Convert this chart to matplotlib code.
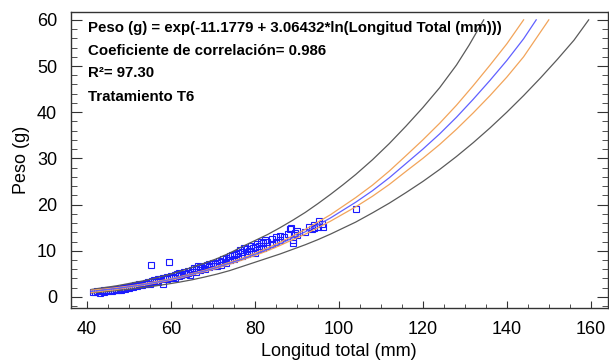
import matplotlib.pyplot as plt
from matplotlib.ticker import MultipleLocator

plt.rcParams['font.family'] = ['Liberation Sans', 'DejaVu Sans']

# observed points (Longitud total mm, Peso g)
obs_l = [41.5, 42, 42.5, 43, 43, 43.5, 44, 44, 44.5, 45, 45, 45.5, 46, 46, 46.5, 47, 47, 47.5,
         48, 48, 48.5, 49, 49, 49.5, 50, 50, 50.5,
         51, 51, 51.5, 52, 52, 52.5, 53, 53, 53.5, 54, 54, 54.5, 55, 55, 55.2, 55.5, 56, 56, 56.5,
         57, 57, 57.5, 58, 58, 58.5, 59, 59, 59.6, 60, 60, 60.5,
         61, 61, 61.5, 62, 62, 62.5, 63, 63, 63.5, 64, 64, 64.5, 65, 65, 65.5, 66, 66, 66.5,
         67, 67, 67.5, 68, 68, 68.5, 69, 69, 69.5, 70, 70, 70.5,
         71, 71, 71.5, 72, 72, 72.5, 73, 73, 73.5, 74, 74, 74.5, 75, 75, 75.5, 76, 76, 76.5,
         77, 77, 77.5, 78, 78, 78.5, 79, 79, 79.5, 80, 80, 80.5,
         81, 81, 81.5, 82, 82, 82.5, 83, 83, 84, 84, 85, 85, 86, 86, 87, 88, 88.3, 88.5,
         89, 89, 89.5, 90, 90,
         92, 93, 93.5, 94, 94, 95, 95.3, 96, 96.2, 104]
obs_w = [1.0, 1.1, 1.2, 0.9, 1.3, 1.2, 1.4, 1.1, 1.3, 1.6, 1.2, 1.4, 1.5, 1.2, 1.6, 1.7, 1.4, 1.5,
         1.8, 1.6, 1.9, 2.0, 1.7, 2.1, 2.2, 1.9, 2.3,
         2.4, 2.1, 2.5, 2.6, 2.3, 2.7, 2.9, 2.5, 2.8, 3.1, 2.7, 3.2, 3.3, 2.9, 6.9, 3.4, 3.6, 3.2, 3.5,
         3.8, 3.3, 3.9, 4.0, 2.9, 4.2, 4.3, 3.8, 7.5, 4.6, 4.0, 4.4,
         4.8, 4.2, 5.0, 5.1, 4.5, 4.8, 5.4, 4.9, 5.0, 5.6, 5.2, 4.7, 5.9, 5.4, 6.3, 6.1, 5.5, 6.8,
         6.4, 5.8, 6.2, 6.7, 6.0, 7.0, 7.1, 6.5, 6.6, 7.3, 6.7, 7.1,
         7.4, 6.6, 7.8, 7.6, 7.0, 8.2, 8.5, 7.4, 7.9, 8.8, 8.0, 9.1, 9.0, 8.2, 9.3, 9.6, 8.6, 10.2,
         9.8, 8.9, 10.5, 10.3, 9.2, 10.0, 11.0, 9.9, 10.6, 10.8, 9.6, 11.4,
         11.1, 10.3, 11.8, 11.6, 10.5, 12.3, 12.0, 11.1, 12.5, 11.4, 12.9, 12.0, 13.1, 12.4, 13.0, 13.6, 14.7, 15.0,
         12.3, 11.6, 13.9, 14.2, 13.5,
         14.0, 15.1, 14.6, 15.5, 14.9, 15.2, 16.5, 15.8, 15.2, 19.0]

# fitted line
fit_l = [41, 44, 47, 50, 53, 56, 59, 62, 65, 68, 71, 74, 77, 80, 83, 86, 89, 92, 95, 98,
         101, 104, 108, 112, 116, 120, 124, 128, 132, 136, 140, 144, 147]
fit_w = [1.2, 1.5, 1.8, 2.2, 2.6, 3.1, 3.6, 4.2, 4.9, 5.6, 6.4, 7.3, 8.2, 9.2, 10.3, 11.5, 12.8, 14.1, 15.6, 17.1,
         18.8, 20.5, 23.0, 25.8, 28.9, 32.0, 35.3, 38.9, 42.8, 46.9, 51.2, 55.9, 60.0]

# confidence limits (orange)
cup_l = [41, 44, 47, 50, 53, 56, 59, 62, 65, 68, 71, 74, 77, 80, 83, 86, 89, 92, 95, 98,
         101, 104, 108, 112, 116, 120, 124, 128, 132, 136, 140, 144]
cup_w = [1.45, 1.7, 2.0, 2.35, 2.75, 3.25, 3.75, 4.35, 5.05, 5.75, 6.6, 7.5, 8.4, 9.45, 10.6, 11.85, 13.2, 14.6, 16.2, 17.8,
         19.65, 21.5, 24.2, 27.25, 30.6, 34.0, 37.6, 41.5, 45.75, 50.2, 54.8, 60.0]
clo_l = [41, 44, 47, 50, 53, 56, 59, 62, 65, 68, 71, 74, 77, 80, 83, 86, 89, 92, 95, 98,
         101, 104, 108, 112, 116, 120, 124, 128, 132, 136, 140, 144, 150]
clo_w = [0.95, 1.3, 1.6, 2.05, 2.45, 2.95, 3.45, 4.05, 4.75, 5.45, 6.2, 7.1, 8.0, 8.95, 10.0, 11.15, 12.4, 13.6, 15.0, 16.4,
         17.95, 19.5, 21.8, 24.35, 27.2, 30.0, 33.0, 36.3, 39.85, 43.6, 47.6, 52.0, 60.0]

# prediction limits (gray)
pup_l = [41, 44, 47, 50, 53, 56, 59, 62, 65, 68, 71, 74, 77, 80, 83, 86, 89, 92, 95, 98,
         101, 104, 108, 112, 116, 120, 124, 128, 131, 134.5]
pup_w = [1.6, 2.0, 2.4, 2.9, 3.4, 4.0, 4.7, 5.5, 6.4, 7.3, 8.3, 9.5, 10.9, 12.2, 13.5, 15.0, 16.6, 18.3, 20.2, 22.2,
         24.3, 26.5, 29.7, 33.2, 37.0, 41.0, 45.3, 50.2, 54.5, 60.0]
plo_l = [41, 44, 47, 50, 53, 56, 59, 62, 65, 68, 71, 74, 77, 80, 83, 86, 89, 92, 95, 98,
         101, 104, 108, 112, 116, 120, 124, 128, 132, 136, 140, 144, 148, 152, 156, 159.5]
plo_w = [0.85, 1.1, 1.35, 1.65, 2.0, 2.35, 2.75, 3.2, 3.7, 4.3, 4.95, 5.7, 6.6, 7.5, 8.4, 9.3, 10.3, 11.3, 12.4, 13.6,
         14.9, 16.2, 18.2, 20.3, 22.6, 25.0, 27.6, 30.4, 33.4, 36.6, 40.0, 43.6, 47.4, 51.4, 55.6, 60.0]

notes = ["Peso (g) = exp(-11.1779 + 3.06432*ln(Longitud Total (mm)))",
         "Coeficiente de correlación= 0.986",
         "R²= 97.30",
         "Tratamiento T6"]

fig = plt.figure(figsize=(6.09, 3.62), dpi=100)
ax = fig.add_axes([71 / 609, 1 - 308 / 362, 537 / 609, 296 / 362])

ax.plot(obs_l, obs_w, 's', mfc='none', mec='#1a1aff', ms=4.2, mew=0.8, zorder=2)
ax.plot(pup_l, pup_w, color='#5a5a5a', lw=0.9, zorder=3)
ax.plot(plo_l, plo_w, color='#5a5a5a', lw=0.9, zorder=3)
ax.plot(cup_l, cup_w, color='#f2a45a', lw=0.9, zorder=3)
ax.plot(clo_l, clo_w, color='#f2a45a', lw=0.9, zorder=3)
ax.plot(fit_l, fit_w, color='#6060ff', lw=0.9, zorder=4)

ax.set_xlim(36.2, 164.1)
ax.set_ylim(-2.4, 61.7)
ax.xaxis.set_major_locator(MultipleLocator(20))
ax.xaxis.set_minor_locator(MultipleLocator(5))
ax.yaxis.set_major_locator(MultipleLocator(10))
ax.yaxis.set_minor_locator(MultipleLocator(2))
ax.tick_params(which='both', direction='in', left=True, right=True, top=False, bottom=True,
               labelsize=13, colors='#333333', labelcolor='black')
ax.tick_params(axis='y', which='major', length=8, pad=10)
ax.tick_params(axis='y', which='minor', length=4)
ax.tick_params(axis='x', which='major', length=5, pad=9)
ax.tick_params(axis='x', which='minor', length=3)
for s in ax.spines.values():
    s.set_color('#333333')
    s.set_linewidth(1.0)

fig.text(339 / 609, 1 - 351 / 362, "Longitud total (mm)", fontsize=13, ha='center', va='center')
fig.text(22 / 609, 1 - 160 / 362, "Peso (g)", fontsize=13, ha='center', va='center', rotation=90)

for txt, yy in zip(notes, [0.946, 0.868, 0.794, 0.713]):
    ax.text(0.032, yy, txt, transform=ax.transAxes, fontsize=10.8, fontweight='bold',
            va='center', ha='left')

fig.savefig('out.png', dpi=100)
